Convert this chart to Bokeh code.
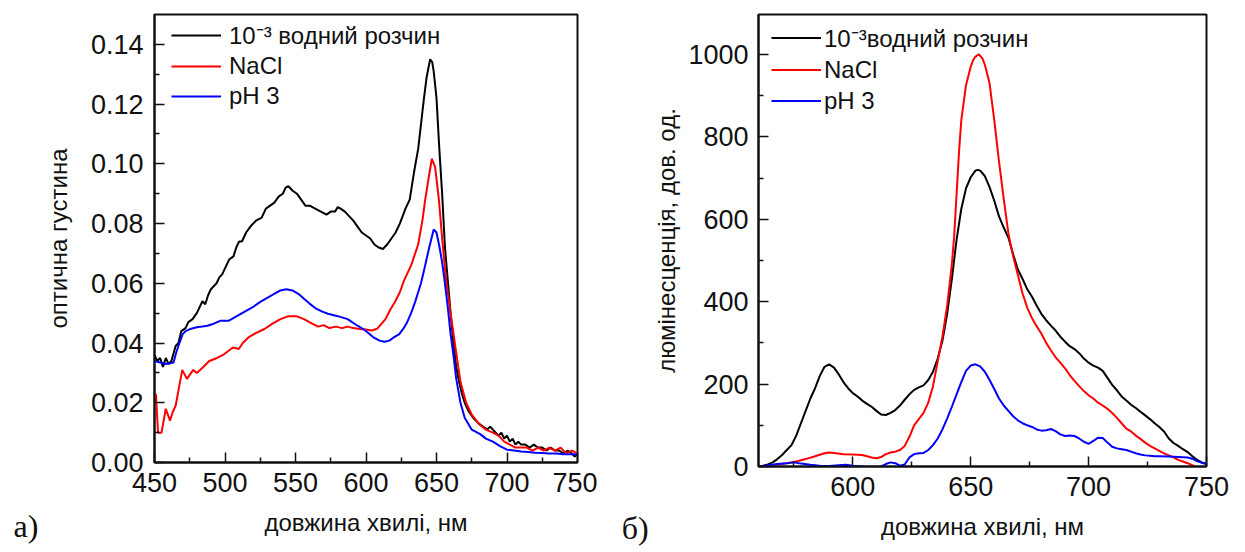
from bokeh.plotting import figure
from bokeh.layouts import row
from bokeh.models import (Range1d, FixedTicker, PrintfTickFormatter, Legend, LegendItem, Label)
from bokeh.embed import file_html
from bokeh.resources import INLINE

# ---------------- Panel a) : absorbance ----------------
abs_black_x = [450, 452, 454, 456, 458, 460, 462, 465, 467, 469, 472, 474, 477, 480, 482, 484, 486, 488,
               490, 492, 494, 496, 498, 500, 503, 506, 508, 510, 512, 515, 518, 522, 526, 529, 532, 535,
               538, 541, 543, 545, 548, 551, 554, 557, 560, 564, 568, 572, 575, 578, 580, 582, 585, 588,
               591, 594, 597, 600, 603, 606, 609, 612, 615, 618, 621, 624, 628, 631, 634, 637, 641, 643,
               645.5, 647, 648, 650, 652, 654, 656, 658, 660, 662, 664, 666, 668, 670, 673, 676, 680, 683,
               686, 688, 690, 692, 694, 696, 698, 700, 702, 704, 706, 708, 710, 713, 716, 719, 722, 725,
               728, 731, 734, 737, 740, 743, 746, 748, 750]
abs_black_y = [0.036, 0.034, 0.035, 0.032, 0.035, 0.033, 0.034, 0.039, 0.040, 0.044, 0.045, 0.047, 0.048,
               0.050, 0.052, 0.054, 0.053, 0.056, 0.058, 0.059, 0.060, 0.062, 0.063, 0.065, 0.068, 0.069,
               0.072, 0.074, 0.074, 0.077, 0.079, 0.081, 0.082, 0.085, 0.086, 0.087, 0.089, 0.090, 0.092,
               0.0925, 0.091, 0.090, 0.088, 0.086, 0.086, 0.085, 0.084, 0.083, 0.084, 0.084, 0.0855, 0.085,
               0.084, 0.0825, 0.081, 0.079, 0.077, 0.076, 0.075, 0.073, 0.072, 0.0715, 0.073, 0.075, 0.077,
               0.080, 0.085, 0.088, 0.097, 0.105, 0.1215, 0.129, 0.135, 0.134, 0.131, 0.122, 0.105, 0.090,
               0.072, 0.061, 0.050, 0.040, 0.032, 0.027, 0.023, 0.020, 0.017, 0.015, 0.013, 0.012, 0.011,
               0.012, 0.011, 0.010, 0.009, 0.010, 0.008, 0.009, 0.007, 0.008, 0.006, 0.007, 0.006, 0.006,
               0.005, 0.006, 0.005, 0.005, 0.004, 0.005, 0.004, 0.004, 0.003, 0.004, 0.003, 0.002, 0.003]

abs_red_x = [450, 451, 452.5, 455, 458, 461, 463, 465, 467.7, 469.7, 473, 477.5, 480, 484.6, 488.8, 494.4,
             498.6, 501.4, 505.6, 509.8, 512.6, 516.9, 522.5, 528, 533.7, 539.3, 545, 550.6, 556, 561.8,
             566, 570, 574, 578.7, 583, 587, 591, 595.5, 600, 604, 608, 613.8, 617, 620.8, 624, 627, 632,
             637, 640, 642, 644, 646.7, 649, 651.7, 654, 656.8, 660, 663, 667, 671, 675, 680, 685, 690, 694,
             698, 702, 706, 710, 714, 718, 722, 726, 730, 734, 738, 742, 746, 750]
abs_red_y = [0.020, 0.023, 0.010, 0.010, 0.018, 0.014, 0.017, 0.019, 0.026, 0.031, 0.028, 0.031, 0.030,
             0.032, 0.034, 0.035, 0.036, 0.037, 0.0385, 0.038, 0.040, 0.042, 0.0435, 0.0447, 0.0465, 0.048,
             0.049, 0.049, 0.048, 0.0465, 0.0455, 0.046, 0.045, 0.0455, 0.045, 0.0455, 0.045, 0.0447,
             0.0445, 0.0442, 0.0448, 0.048, 0.051, 0.054, 0.057, 0.061, 0.066, 0.073, 0.081, 0.088, 0.094,
             0.1017, 0.099, 0.088, 0.075, 0.061, 0.050, 0.040, 0.027, 0.020, 0.016, 0.013, 0.011, 0.010,
             0.009, 0.007, 0.006, 0.005, 0.005, 0.005, 0.004, 0.005, 0.004, 0.005, 0.004, 0.005, 0.003,
             0.004, 0.003]

abs_blue_x = [450, 454, 458, 461, 463.5, 465.5, 467.7, 470, 472, 476, 480, 484, 487.4, 491.6, 497, 502.8,
              508.4, 514, 519.7, 525, 530.9, 535, 539.3, 543.5, 547.8, 552, 556, 560, 564.6, 569, 573, 580,
              587, 594, 598, 601, 605, 609.6, 613, 616.6, 620, 623.6, 626.5, 629.2, 632, 634.8, 637, 639,
              641, 644.5, 648, 650, 652, 654, 655.7, 658, 660, 662, 664, 667, 670, 675, 681, 685, 690, 695,
              700, 705, 710, 715, 720, 725, 730, 735, 740, 745, 750]
abs_blue_y = [0.034, 0.0335, 0.033, 0.0332, 0.0335, 0.037, 0.040, 0.043, 0.044, 0.0448, 0.0453, 0.0455,
              0.0458, 0.0464, 0.0475, 0.0475, 0.049, 0.0505, 0.052, 0.0538, 0.0554, 0.0565, 0.0576,
              0.0580, 0.0576, 0.0565, 0.0548, 0.0532, 0.0515, 0.0505, 0.0498, 0.049, 0.048, 0.0458,
              0.0447, 0.0436, 0.042, 0.0408, 0.0404, 0.0408, 0.042, 0.043, 0.0448, 0.047, 0.050, 0.0537,
              0.057, 0.060, 0.064, 0.0713, 0.078, 0.077, 0.0725, 0.067, 0.061, 0.052, 0.043, 0.036, 0.028,
              0.020, 0.015, 0.011, 0.0095, 0.008, 0.007, 0.0055, 0.0043, 0.004, 0.0037, 0.0035, 0.0033,
              0.0032, 0.003, 0.003, 0.0028, 0.0028, 0.0027]

# ---------------- Panel б) : luminescence ----------------
lum_black_x = [560, 562, 564, 566, 568, 570, 572, 574, 576, 578, 580, 582, 584, 586, 588, 590, 592, 594,
               596, 598, 600, 602, 604, 606, 608, 610, 612, 614, 616, 618, 620, 622, 624, 626, 628, 630,
               632, 634, 636, 638, 640, 642, 644, 646, 648, 650, 652, 653, 654, 656, 658, 660, 662, 664,
               666, 668, 670, 672, 674, 676, 678, 680, 682, 684, 686, 688, 690, 692, 694, 696, 698, 700,
               702, 704, 706, 708, 710, 712, 714, 716, 718, 720, 722, 724, 726, 728, 730, 732, 734, 736,
               738, 740, 742, 744, 746, 748, 750]
lum_black_y = [0, 2, 5, 10, 18, 28, 40, 52, 75, 105, 135, 165, 190, 220, 242, 248, 240, 224, 205, 190,
               178, 170, 160, 152, 145, 135, 126, 125, 130, 137, 148, 162, 175, 186, 192, 197, 210, 230,
               262, 305, 370, 455, 550, 625, 675, 702, 718, 720, 718, 705, 678, 645, 607, 580, 555, 515,
               478, 455, 430, 412, 390, 370, 355, 342, 330, 315, 303, 292, 285, 275, 262, 252, 245, 240,
               232, 215, 198, 185, 170, 160, 150, 142, 133, 124, 115, 105, 96, 85, 68, 57, 50, 42, 35, 25,
               16, 10, 6]

lum_red_x = [560, 564, 568, 572, 576, 580, 584, 588, 590, 592, 596, 600, 604, 608, 610, 612, 614, 616,
             618, 620, 622, 624, 626, 628, 630, 632, 634, 636, 638, 640, 642, 643, 644, 645, 646, 648, 650,
             651, 652, 653.5, 655, 656, 658, 660, 662, 664, 666, 668, 670, 672, 674, 676, 678, 680, 682,
             684, 686, 688, 690, 692, 694, 696, 698, 700, 702, 704, 706, 708, 710, 712, 714, 716, 718,
             720, 722, 724, 726, 728, 730, 732, 734, 736, 738, 740, 742, 744, 746, 748]
lum_red_y = [0, 2, 5, 8, 12, 18, 25, 32, 34, 33, 30, 29, 28, 22, 20, 23, 30, 34, 36, 40, 50, 72, 100,
             115, 130, 155, 195, 255, 315, 390, 490, 560, 660, 760, 840, 925, 970, 986, 995, 1000, 990,
             975, 930, 840, 740, 650, 565, 510, 465, 420, 385, 360, 340, 322, 300, 282, 265, 252, 238,
             222, 208, 195, 183, 173, 165, 155, 148, 140, 130, 118, 105, 92, 85, 75, 67, 58, 50, 44, 38,
             32, 27, 22, 16, 12, 8, 3, -2, -6]

lum_blue_x = [560, 564, 568, 572, 575, 578, 582, 586, 590, 594, 597, 600, 604, 608, 612, 614, 616, 618,
              620, 622, 624, 626, 628, 630, 632, 634, 636, 638, 640, 642, 644, 646, 648, 650, 652, 654,
              656, 658, 660, 662, 664, 666, 668, 670, 672, 674, 676, 678, 680, 682, 684, 686, 688, 690,
              692, 694, 696, 698, 700, 702, 704, 706, 708, 710, 712, 714, 716, 718, 720, 722, 724, 726,
              728, 730, 734, 738, 742, 744, 746, 748, 750]
lum_blue_y = [0, 3, 6, 8, 10, 7, 4, 2, 1, 3, 4, 2, 0, -1, 0, 6, 10, 8, 2, 5, 22, 30, 32, 33, 40, 52, 68,
              90, 116, 145, 175, 205, 232, 245, 248, 243, 230, 210, 188, 165, 148, 135, 122, 112, 105,
              100, 96, 90, 87, 88, 91, 86, 78, 74, 75, 74, 68, 60, 55, 62, 70, 69, 58, 48, 44, 42, 40, 36,
              32, 29, 27, 26, 25, 25, 24, 23, 22, 19, 13, 9, 6]

abs_ticks = [450, 500, 550, 600, 650, 700, 750]
abs_yticks = [0.0, 0.02, 0.04, 0.06, 0.08, 0.10, 0.12, 0.14]
lum_ticks = [600, 650, 700, 750]
lum_yticks = [0, 200, 400, 600, 800, 1000]

series_labels_a = ["10\u207b\u00b3 водний розчин", "NaCl", "pH 3"]
series_labels_b = ["10\u207b\u00b3водний розчин", "NaCl", "pH 3"]
colors = ["#000000", "#ff0000", "#0000ff"]
xlabel = "довжина хвилі, нм"
ylabel_a = "оптична густина"
ylabel_b = "люмінесценція, дов. од."
panel_a = "а)"
panel_b = "б)"

FONT = "Liberation Sans"


def style(p):
    p.outline_line_color = "#111111"
    p.outline_line_width = 2
    p.xgrid.visible = False
    p.ygrid.visible = False
    for ax in (p.xaxis[0], p.yaxis[0]):
        ax.axis_line_width = 2
        ax.axis_line_color = "#111111"
        ax.major_tick_in = 10
        ax.major_tick_out = 0
        ax.minor_tick_in = 5
        ax.minor_tick_out = 0
        ax.major_tick_line_width = 1.5
        ax.minor_tick_line_width = 1.5
        ax.major_tick_line_color = "#111111"
        ax.minor_tick_line_color = "#111111"
        ax.major_label_text_font = FONT
        ax.major_label_text_font_size = "27px"
        ax.major_label_text_color = "#111111"
        ax.axis_label_text_font = FONT
        ax.axis_label_text_font_size = "24px"
        ax.axis_label_text_font_style = "normal"
        ax.axis_label_text_color = "#111111"


# ---------- figure a ----------
p1 = figure(width=597, height=543, output_backend="svg", toolbar_location=None,
            x_range=Range1d(450, 750), y_range=Range1d(0, 0.15),
            frame_width=423, frame_height=448,
            min_border_left=154, min_border_right=20, min_border_top=14, min_border_bottom=81)
style(p1)
p1.xaxis[0].ticker = FixedTicker(ticks=abs_ticks, minor_ticks=[475, 525, 575, 625, 675, 725])
p1.yaxis[0].ticker = FixedTicker(ticks=abs_yticks,
                                 minor_ticks=[0.01, 0.03, 0.05, 0.07, 0.09, 0.11, 0.13])
p1.yaxis[0].formatter = PrintfTickFormatter(format="%.2f")
p1.xaxis[0].major_label_standoff = 10
p1.yaxis[0].major_label_standoff = 11
p1.xaxis[0].axis_label = xlabel
p1.yaxis[0].axis_label = ylabel_a
p1.xaxis[0].axis_label_standoff = 14
p1.yaxis[0].axis_label_standoff = 16

ra = []
for xs, ys, c in ((abs_black_x, abs_black_y, colors[0]), (abs_red_x, abs_red_y, colors[1]),
                  (abs_blue_x, abs_blue_y, colors[2])):
    ra.append(p1.line(xs, ys, line_color=c, line_width=2))

leg1 = Legend(items=[LegendItem(label=l, renderers=[r]) for l, r in zip(series_labels_a, ra)],
              location=(17, 351), margin=0, padding=4, spacing=0, label_height=30, glyph_height=30,
              glyph_width=50, label_standoff=8, border_line_color=None, background_fill_alpha=0,
              label_text_font=FONT, label_text_font_size="24px", label_text_color="#111111")
p1.add_layout(leg1)
p1.add_layout(Label(x=350, y=-0.0212, text=panel_a,
                    text_font="Liberation Serif", text_font_size="32px", text_color="#111111",
                    text_baseline="alphabetic"), "below")

# ---------- figure б ----------
p2 = figure(width=639, height=543, output_backend="svg", toolbar_location=None,
            x_range=Range1d(560, 750), y_range=Range1d(0, 1097),
            frame_width=448, frame_height=452,
            min_border_left=161, min_border_right=30, min_border_top=12, min_border_bottom=79)
style(p2)
p2.xaxis[0].ticker = FixedTicker(ticks=lum_ticks, minor_ticks=[575, 625, 675, 725])
p2.yaxis[0].ticker = FixedTicker(ticks=lum_yticks, minor_ticks=[100, 300, 500, 700, 900])
p2.xaxis[0].major_label_standoff = 10
p2.yaxis[0].major_label_standoff = 10
p2.xaxis[0].axis_label = xlabel
p2.yaxis[0].axis_label = ylabel_b
p2.xaxis[0].axis_label_standoff = 14
p2.yaxis[0].axis_label_standoff = 5

rb = []
for xs, ys, c in ((lum_black_x, lum_black_y, colors[0]), (lum_red_x, lum_red_y, colors[1]),
                  (lum_blue_x, lum_blue_y, colors[2])):
    rb.append(p2.line(xs, ys, line_color=c, line_width=2))

leg2 = Legend(items=[LegendItem(label=l, renderers=[r]) for l, r in zip(series_labels_b, rb)],
              location=(13, 350), margin=0, padding=4, spacing=0, label_height=31, glyph_height=31,
              glyph_width=50, label_standoff=3, border_line_color=None, background_fill_alpha=0,
              label_text_font=FONT, label_text_font_size="24px", label_text_color="#111111")
p2.add_layout(leg2)
p2.add_layout(Label(x=502, y=-150, text=panel_b,
                    text_font="Liberation Serif", text_font_size="32px", text_color="#111111",
                    text_baseline="alphabetic"), "below")

layout = row(p1, p2)
open("out.html", "w").write(file_html(layout, INLINE))
